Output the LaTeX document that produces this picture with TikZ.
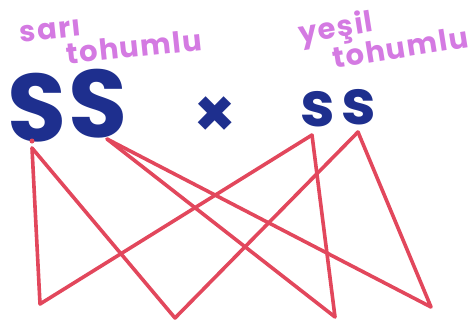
\documentclass[tikz,border=0pt]{standalone}
\usepackage{fontspec}
\setmainfont{Poppins}
\definecolor{inkblue}{HTML}{1E2F8E}
\definecolor{inkpurple}{HTML}{D47AE2}
\definecolor{inkred}{HTML}{E2475C}
\begin{document}
\begin{tikzpicture}[x=1pt,y=-1pt,
  big/.style={text=inkblue,font=\fontsize{96}{96}\selectfont\bfseries,inner sep=0pt,anchor=base},
  small/.style={text=inkblue,font=\fontsize{62}{62}\selectfont\bfseries,inner sep=0pt,anchor=base},
  note/.style={text=inkpurple,font=\fontsize{29}{27}\selectfont\bfseries\addfontfeature{LetterSpace=5},inner sep=0pt,align=left},
  cross/.style={draw=inkred,line width=3.6pt,line cap=round,line join=round}]
\useasboundingbox (0,0) rectangle (474,324);
% labels
\node[note,rotate=6] (left) at (111,38) {sarı\\\hspace*{44pt}tohumlu};
\node[note,rotate=9] (right) at (383,34) {yeşil\\\hspace*{30pt}tohumlu};
% genotypes
\node[big] (S1) at (37,141) {S};
\node[big] (S2) at (98,137) {S};
\node[small,font=\fontsize{68}{68}\selectfont\bfseries] (x) at (215,137) {×};
\node[small] (s1) at (318,126) {s};
\node[small] (s2) at (359,124) {s};
% connector ends
\coordinate (a1) at (32,148);
\coordinate (a2) at (107,139);
\coordinate (b1) at (312,135);
\coordinate (b2) at (358,132);
\coordinate (c1) at (40,304);
\coordinate (c2) at (175,318);
\coordinate (c3) at (335,317);
\coordinate (c4) at (431,307);
\fill[inkred] (32,141) circle (2.5pt);
\draw[cross] (a1) -- (c1) -- (b1);
\draw[cross] (a1) -- (c2) -- (b2);
\draw[cross] (a2) -- (c3) -- (b1);
\draw[cross] (a2) -- (c4) -- (b2);
\end{tikzpicture}
\end{document}
